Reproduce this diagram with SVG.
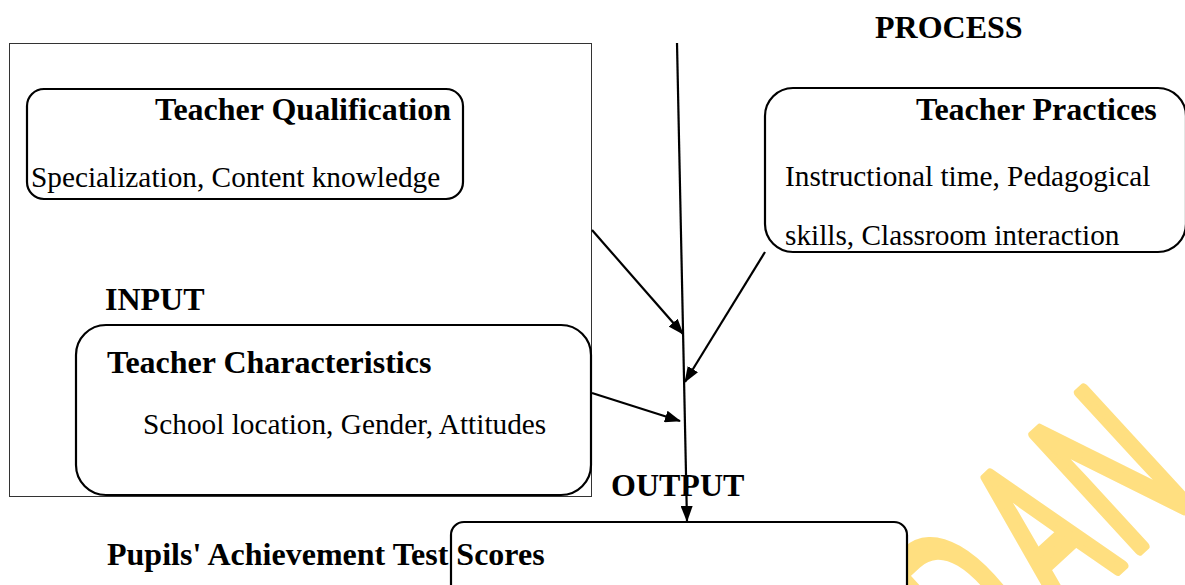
<svg xmlns="http://www.w3.org/2000/svg" width="1185" height="585" viewBox="0 0 1185 585">
<defs>
<style>
.b{font-family:"Liberation Serif","Times New Roman",serif;font-weight:bold;font-size:32px;fill:#000}
.r{font-family:"Liberation Serif","Times New Roman",serif;font-size:29.3px;fill:#000}
.box{fill:none;stroke:#000;stroke-width:2.2}
.con{stroke:#000;stroke-width:2.2;fill:none}
.wm{font-family:"Open Sans","DejaVu Sans",sans-serif;font-size:129px;fill:#FFDF80;stroke:#FFDF80;stroke-width:6;stroke-linejoin:round;text-anchor:middle}
</style>
<marker id="ah" viewBox="0 0 16 12" markerWidth="16" markerHeight="12" refX="15" refY="6" orient="auto" markerUnits="userSpaceOnUse">
<path d="M0,0 L16,6 L0,12 z" fill="#000"/>
</marker>
</defs>
<rect width="1185" height="585" fill="#fff"/>
<g id="watermark" transform="translate(1143,547) rotate(-42.6) scale(1,1.7)">
<text class="wm" x="-170" y="0">D</text>
<text class="wm" x="-66" y="0">A</text>
<text class="wm" x="29.5" y="0">N</text>
</g>
<rect id="frame" x="9.5" y="43.5" width="582" height="453" fill="none" stroke="#333" stroke-width="1"/>
<g id="label-process"><text class="b" x="875" y="38">PROCESS</text></g>
<g id="label-input"><text class="b" x="105" y="310">INPUT</text></g>
<g id="label-output"><text class="b" x="611" y="496">OUTPUT</text></g>
<g id="teacher-qualification">
<rect class="box" x="27" y="89" width="436" height="110" rx="17"/>
<text class="b" x="155" y="120">Teacher Qualification</text>
<text class="r" x="31" y="187">Specialization, Content knowledge</text>
</g>
<g id="teacher-practices">
<rect class="box" x="765" y="88" width="421" height="164" rx="28"/>
<text class="b" x="916" y="120">Teacher Practices</text>
<text class="r" x="785" y="186">Instructional time, Pedagogical</text>
<text class="r" x="785" y="245">skills, Classroom interaction</text>
</g>
<g id="teacher-characteristics">
<rect class="box" x="76" y="325" width="515" height="170" rx="30"/>
<text class="b" x="107" y="373">Teacher Characteristics</text>
<text class="r" x="143" y="434">School location, Gender, Attitudes</text>
</g>
<g id="pupils-scores">
<rect class="box" x="451" y="522" width="456" height="90" rx="13" style="fill:#fff"/>
<text class="b" x="107" y="565">Pupils' Achievement Test Scores</text>
</g>
<g id="connectors">
<line class="con" x1="677" y1="43" x2="687" y2="521" stroke-width="2.6" marker-end="url(#ah)"/>
<line class="con" x1="592" y1="230" x2="683" y2="334" marker-end="url(#ah)"/>
<line class="con" x1="765" y1="252" x2="685" y2="382" marker-end="url(#ah)"/>
<line class="con" x1="592" y1="393" x2="680" y2="421" marker-end="url(#ah)"/>
</g>
</svg>
